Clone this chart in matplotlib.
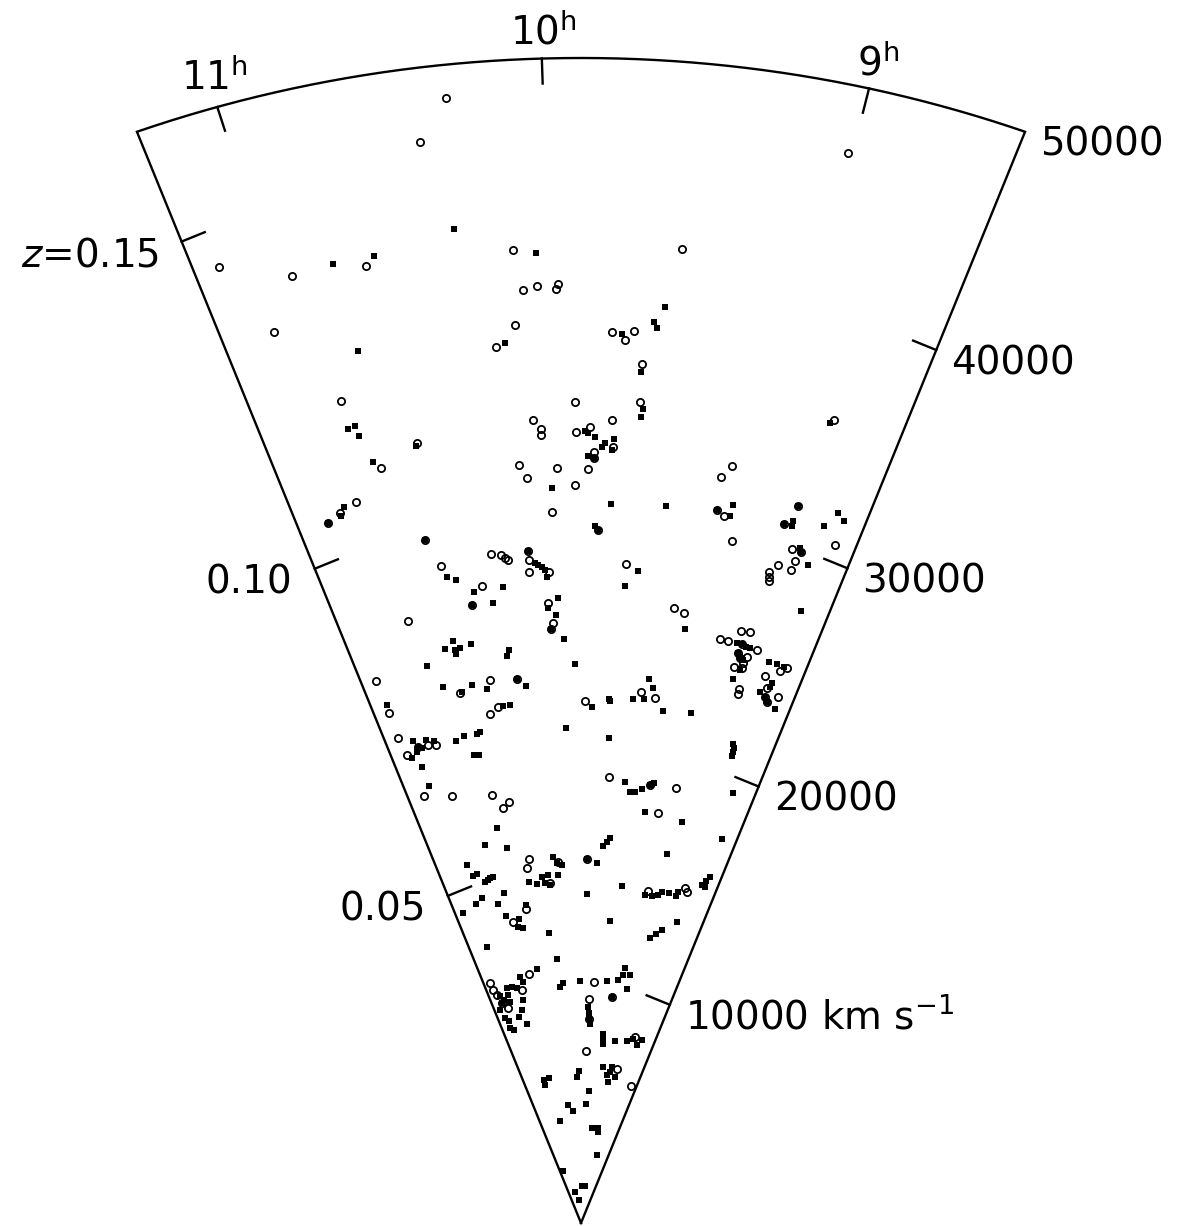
import numpy as np
import matplotlib
matplotlib.use("Agg")
import matplotlib.pyplot as plt

plt.rcParams['font.family'] = ['DejaVu Sans']
plt.rcParams['mathtext.fontset'] = 'dejavusans'

# ---------------- data: (RA [hours], cz [km/s]) ----------------
# open circles
circ_ra = [10.303, 10.404, 9.014, 10.128, 9.516, 11.169, 10.932, 10.664, 10.101, 10.047,
           9.968, 9.976, 11.061, 10.140, 9.758, 9.705, 9.671, 10.223, 10.890, 10.615,
           10.799, 10.955, 11.044, 11.114, 10.677, 10.625, 10.427, 9.907, 10.092, 10.059,
           10.061, 9.903, 10.169, 10.137, 9.994, 9.910, 10.025, 10.354, 10.302, 10.283,
           10.268, 10.159, 10.157, 10.162, 10.055, 9.630, 9.627, 9.744, 9.841, 9.735,
           9.821, 9.821, 9.848, 9.794, 9.640, 8.797, 9.184, 9.224, 9.214, 9.174,
           9.109, 8.837, 8.878, 8.606, 8.804, 8.754, 8.770, 8.774, 8.848, 8.883,
           8.876, 8.870, 10.499, 10.069, 10.046, 10.060, 10.874, 11.168, 10.469, 10.295,
           10.676, 10.446, 10.507, 11.162, 9.854, 11.165, 11.053, 10.981, 10.927, 11.147,
           11.134, 10.923, 10.607, 10.480, 10.539, 9.659, 9.350, 9.289, 8.945, 8.892,
           9.053, 9.003, 8.919, 8.823, 8.928, 8.908, 8.868, 8.881, 8.878, 8.929,
           8.860, 8.857, 8.648, 8.615, 8.726, 8.691, 8.685, 8.662, 8.604, 9.484,
           9.386, 9.328, 9.119, 9.224, 10.383, 10.415, 10.106, 9.823, 10.202, 9.176,
           8.812, 8.781, 10.494, 10.668, 10.610, 11.171, 11.166, 11.137, 10.761, 11.107,
           9.690, 9.755, 9.399, 11.044, 9.742, 8.878, 9.778, 9.067, 8.636]
circ_cz = [48580, 46830, 47120, 41850, 41990, 43440, 42230, 41940, 40110, 40260,
           40310, 40100, 40120, 38630, 38260, 37940, 38340, 37750, 36510, 34100,
           33340, 32210, 31940, 31670, 29960, 28730, 27610, 35240, 34520, 34110,
           33860, 33950, 32620, 32050, 32420, 31680, 30540, 28930, 28840, 28700,
           28600, 28920, 28530, 28020, 27970, 36940, 35320, 34490, 34160, 33330,
           33090, 32830, 32360, 29740, 28340, 35880, 33040, 32490, 31070, 30860,
           29870, 31960, 31060, 30790, 30110, 30070, 29660, 29210, 29300, 28920,
           28710, 28550, 26870, 26640, 25780, 25520, 26740, 24620, 23580, 23480,
           23250, 22390, 22140, 23170, 22400, 22030, 21430, 21390, 21310, 21230,
           19350, 19030, 18700, 18290, 18080, 19180, 26650, 26500, 26190, 26240,
           25660, 25650, 25660, 25570, 25240, 25060, 25170, 24880, 24660, 24620,
           23760, 23550, 24950, 25160, 24560, 24120, 23730, 23550, 23860, 22910,
           22720, 18990, 19040, 17860, 15760, 15380, 15520, 15620, 14640, 14490,
           14960, 14820, 13650, 13200, 10880, 10910, 10580, 10340, 10270, 9950,
           10360, 9620, 9780, 9670, 8760, 8270, 7390, 6760, 6210]

# filled squares
sq_ra = [10.330, 10.045, 10.779, 10.628, 9.558, 9.596, 9.582, 9.718, 10.769, 10.185,
         10.892, 10.862, 10.857, 10.622, 10.827, 11.016, 11.044, 11.114, 10.677, 10.605,
         10.561, 10.312, 10.021, 10.159, 10.127, 10.112, 10.091, 10.076, 10.067, 9.632,
         9.612, 9.619, 9.863, 9.850, 9.818, 9.732, 9.785, 9.772, 9.739, 9.849,
         9.821, 9.733, 9.464, 9.794, 9.810, 9.573, 9.637, 8.808, 9.142, 9.214,
         9.146, 8.837, 8.878, 8.840, 8.837, 8.689, 8.646, 8.606, 8.767, 8.754,
         8.700, 10.475, 10.499, 10.380, 10.011, 10.071, 10.026, 10.060, 9.984, 9.919,
         10.648, 10.705, 10.648, 10.615, 10.647, 10.546, 10.323, 10.340, 10.838, 10.295,
         10.241, 10.775, 10.662, 10.589, 10.497, 10.411, 10.363, 11.156, 9.806, 9.692,
         9.988, 9.677, 11.073, 10.984, 10.932, 11.053, 11.028, 11.072, 11.121, 10.781,
         10.717, 10.623, 10.599, 10.677, 10.641, 11.074, 11.071, 10.623, 9.268, 8.654,
         8.949, 8.919, 8.890, 8.866, 8.928, 8.908, 8.886, 8.886, 8.914, 8.730,
         8.680, 8.634, 8.670, 8.673, 8.724, 8.685, 8.662, 8.597, 9.442, 9.408,
         9.458, 9.532, 9.684, 9.319, 9.129, 8.790, 8.774, 8.772, 8.770, 9.530,
         9.481, 9.440, 9.387, 9.328, 9.299, 8.673, 9.334, 9.006, 10.763, 10.571,
         9.675, 9.640, 9.615, 8.626, 9.069, 10.976, 10.952, 10.909, 10.855, 10.820,
         10.796, 10.764, 10.151, 10.116, 10.069, 10.114, 9.823, 9.724, 10.416, 10.337,
         10.277, 10.254, 10.215, 10.204, 9.817, 9.453, 9.199, 9.124, 9.064, 9.030,
         8.957, 8.877, 8.869, 8.659, 8.631, 8.608, 8.623, 10.693, 10.931, 11.011,
         11.175, 10.784, 10.487, 10.731, 10.593, 10.568, 10.624, 10.269, 9.543, 8.785,
         9.039, 8.980, 8.924, 11.048, 10.201, 10.488, 10.743, 10.718, 10.890, 10.964,
         10.824, 11.100, 11.063, 10.981, 10.985, 11.107, 10.195, 10.146, 9.896, 9.503,
         9.346, 9.287, 9.276, 9.190, 9.194, 9.399, 10.784, 10.840, 10.919, 10.821,
         11.174, 11.144, 11.098, 11.123, 11.069, 9.766, 9.746, 9.742, 9.721, 9.472,
         9.458, 9.449, 9.227, 9.003, 8.904, 8.799, 8.738, 9.386, 9.266, 9.211,
         9.186, 9.070, 9.209, 9.928, 9.978, 10.779, 10.650, 10.786, 9.667, 10.269,
         10.133, 9.732, 10.600, 9.474, 9.255, 9.227, 9.062, 11.066, 9.785, 9.501,
         10.558, 10.188]
sq_cz = [42960, 41670, 42310, 42290, 39450, 38780, 38530, 38190, 38440, 37890,
         35300, 35370, 34890, 33980, 33670, 32140, 31800, 31670, 29960, 28230,
         28040, 27470, 31570, 28920, 28380, 28290, 28200, 28060, 27760, 36600,
         35020, 34670, 33990, 33910, 33740, 33670, 33320, 33490, 33200, 32920,
         32830, 30880, 30960, 29740, 29920, 28070, 27400, 35700, 31400, 31070,
         30910, 31960, 31060, 31280, 31070, 31430, 32120, 31880, 30250, 30070,
         29640, 27410, 26870, 26840, 26840, 26430, 26110, 25520, 25080, 23990,
         25490, 25220, 25090, 25140, 24920, 25230, 24760, 24510, 24670, 23480,
         23150, 23650, 23270, 23490, 23220, 22400, 22410, 23520, 22150, 22520,
         21250, 20850, 21730, 21620, 21500, 21430, 21340, 21240, 21050, 21270,
         21410, 21390, 21450, 20530, 20490, 20560, 19700, 17280, 25830, 27670,
         25650, 25660, 25580, 25570, 25240, 25060, 25000, 24560, 24110, 25180,
         25200, 25170, 24360, 24170, 23840, 23730, 23550, 23370, 23500, 23140,
         22620, 22580, 22430, 22210, 22320, 21420, 21280, 21100, 20920, 19010,
         18600, 18620, 18780, 18990, 19100, 19420, 17820, 17670, 16660, 16360,
         16200, 16390, 16560, 17380, 16200, 16020, 15500, 15540, 15120, 15180,
         15240, 15250, 15750, 15480, 15380, 14960, 15620, 15460, 14780, 14650,
         14930, 14660, 14990, 14560, 14120, 14550, 14300, 14310, 14400, 14560,
         14590, 14530, 14720, 15290, 15470, 15680, 15250, 14490, 14490, 14310,
         14090, 14080, 13820, 13510, 13280, 12870, 12950, 12510, 13010, 13470,
         12530, 12750, 12980, 12420, 11370, 11040, 10830, 10600, 10490, 10510,
         10400, 10260, 10050, 10210, 9900, 9950, 10160, 10330, 10390, 10440,
         10530, 10770, 11080, 10820, 10210, 9780, 9840, 9440, 9180, 8810,
         9680, 9300, 9130, 8830, 8700, 9280, 9020, 8760, 8550, 8160,
         7900, 7730, 7930, 8020, 8160, 7960, 8220, 6750, 6430, 6140,
         6810, 6410, 6580, 6520, 6270, 6310, 6350, 6090, 5670, 5090,
         4820, 5110, 4460, 4100, 4130, 3960, 2990, 2340, 1590, 1600,
         1350, 990]

# axis annotations
ra_ticks = [11, 10, 9]
ra_labels = ['11$^{\\mathrm{h}}$', '10$^{\\mathrm{h}}$', '9$^{\\mathrm{h}}$']
vel_ticks = [10000, 20000, 30000, 40000, 50000]
vel_labels = ['10000 km s$^{-1}$', '20000', '30000', '40000', '50000']
z_ticks = [0.05, 0.10, 0.15]
z_labels = ['0.05', '0.10', '$z$=0.15']
CZ_MAX = 50000
C_KMS = 299792.458

# ---------------- geometry / style ----------------
W, H = 1179, 1226
APEX = (581, 1223)                     # apex position in pixels
SX, SY = 1268 / CZ_MAX, 1165 / CZ_MAX  # px per km/s (x, y)
THETA10, DEG_PER_H, HALF = -1.77, 14.9, 20.5
TICK = 25  # px
LW = 1.7
FS = 28


def ra_theta(ra):
    return np.radians(THETA10 - DEG_PER_H * (np.asarray(ra, float) - 10.0))


def to_xy(theta, cz):
    cz = np.asarray(cz, float)
    return cz * np.sin(theta), cz * np.cos(theta)


fig = plt.figure(figsize=(W / 100, H / 100), dpi=100)
ax = fig.add_axes([0, 0, 1, 1])
ax.set_xlim(-APEX[0] / SX, (W - APEX[0]) / SX)
ax.set_ylim(-(H - APEX[1]) / SY, APEX[1] / SY)
ax.axis('off')

# outline
h = np.radians(HALF)
th = np.linspace(-h, h, 300)
ax_, ay_ = to_xy(th, CZ_MAX)
ox = np.concatenate([[0], ax_, [0]])
oy = np.concatenate([[0], ay_, [0]])
ax.plot(ox, oy, color='black', lw=LW, solid_joinstyle='miter')


def px_dir(dx, dy):
    n = np.hypot(dx, dy)
    return dx / n, dy / n


# edge direction in pixel space (y up)
rdx, rdy = px_dir(np.sin(h) * SX, np.cos(h) * SY)   # right edge
ldx, ldy = -rdx, rdy                                # left edge
nrx, nry = -rdy, rdx      # inward normal of right edge
nlx, nly = ldy, -ldx      # inward normal of left edge

# right edge ticks + labels
for v, lab in zip(vel_ticks, vel_labels):
    px, py = to_xy(h, v)
    if v < CZ_MAX:
        ax.plot([px, px + TICK * nrx / SX], [py, py + TICK * nry / SY],
                color='black', lw=LW)
    ax.annotate(lab, xy=(px, py), xytext=(15, -24), textcoords='offset pixels',
                ha='left', va='baseline', fontsize=FS)

# left edge ticks + labels (redshift)
for z, lab in zip(z_ticks, z_labels):
    px, py = to_xy(-h, z * C_KMS)
    ax.plot([px, px + TICK * nlx / SX], [py, py + TICK * nly / SY],
            color='black', lw=LW)
    ax.annotate(lab, xy=(px, py), xytext=(-22, -25), textcoords='offset pixels',
                ha='right', va='baseline', fontsize=FS)

# RA ticks on arc + labels
ra_label_off = [(-3, 17), (2, 14), (9, 13)]
for ra, lab, off in zip(ra_ticks, ra_labels, ra_label_off):
    t = ra_theta(ra)
    px, py = to_xy(t, CZ_MAX)
    dx, dy = px_dir(-px * SX, -py * SY)
    ax.plot([px, px + TICK * dx / SX], [py, py + TICK * dy / SY],
            color='black', lw=LW)
    ax.annotate(lab, xy=(px, py), xytext=off, textcoords='offset pixels',
                ha='center', va='baseline', fontsize=FS)

# galaxies
cx, cy = to_xy(ra_theta(circ_ra), circ_cz)
ax.plot(cx, cy, 'o', ls='none', ms=5.2, mfc='none', mec='black', mew=1.3)
sx_, sy_ = to_xy(ra_theta(sq_ra), sq_cz)
ax.plot(sx_, sy_, 's', ls='none', ms=4.2, color='black', mew=0)

fig.savefig('out.png', dpi=100)
